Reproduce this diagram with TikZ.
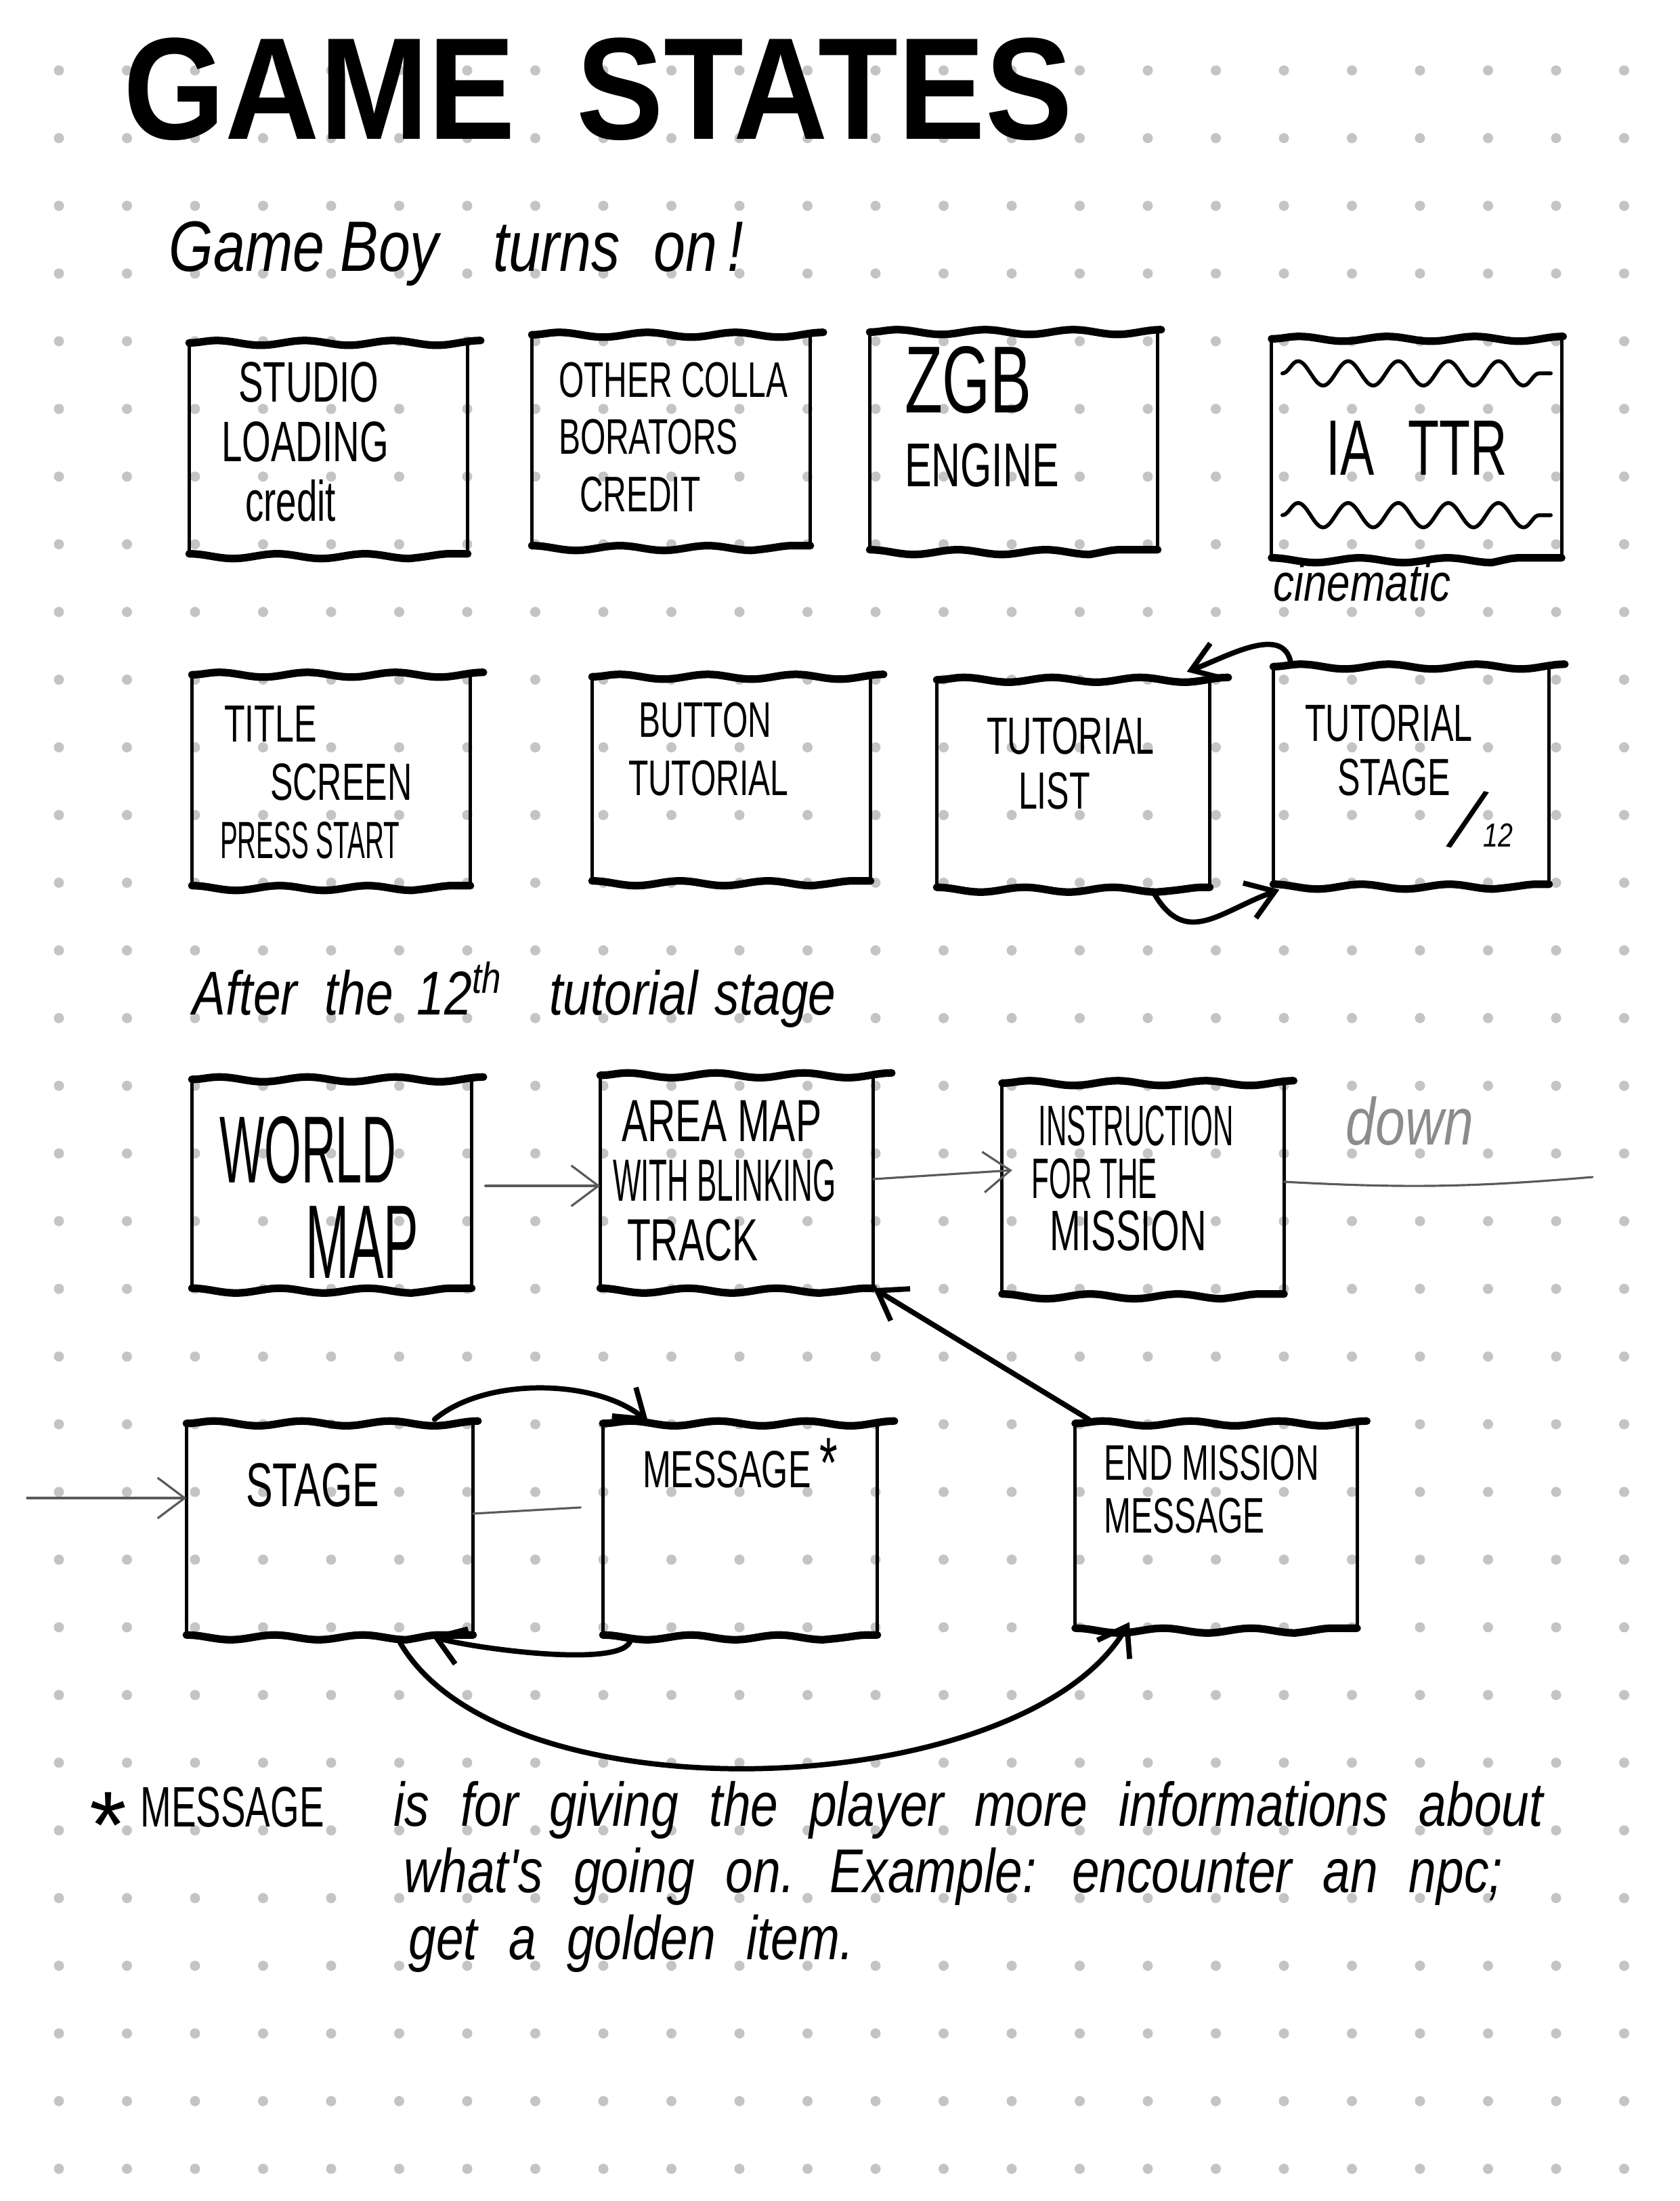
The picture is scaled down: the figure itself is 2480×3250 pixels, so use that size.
\documentclass[tikz,border=0pt]{standalone}
\usepackage{fontspec}
\setmainfont{Liberation Sans}
\newfontfamily\handfont[FakeStretch=0.65]{Liberation Sans}
\newfontfamily\handnarrow[FakeStretch=0.5]{Liberation Sans}
\newfontfamily\cursive[FakeStretch=0.8]{Liberation Sans}
\newfontfamily\titlefont[FakeStretch=0.9]{Liberation Sans}
\newcommand{\handsize}[2]{\fontsize{#1}{#2}\selectfont}
\newcommand{\widespace}{\spaceskip=0.5em\relax}
\usetikzlibrary{arrows.meta,decorations.pathmorphing,positioning}
\definecolor{dotgrey}{HTML}{C4C4C4}
\definecolor{pencilgrey}{HTML}{5A5A5A}

\begin{document}
\begin{tikzpicture}[x=0.1mm, y=-0.1mm,
screen/.style = {minimum width=41mm, minimum height=31mm, inner sep=0pt},
side/.style = {line width=1.4pt, line cap=round},
rim/.style = {line width=3.2pt, line cap=round, decorate, decoration={snake, amplitude=0.35mm, segment length=13mm}},
wave/.style = {line width=1.6pt, line cap=round, decorate, decoration={snake, amplitude=1.8mm, segment length=7.4mm}},
caps/.style = {font=\handfont\handsize{22}{24}, align=left, inner sep=0pt},
note/.style = {font=\cursive\itshape\handsize{26}{28}, inner sep=0pt},
link/.style = {line width=2.2pt, line cap=round, -{Straight Barb[length=4mm, width=5.5mm]}},
pencil/.style = {line width=0.9pt, pencilgrey, line cap=round}]
\useasboundingbox (0,0) rectangle (2480,3250);

% dotted paper
\foreach \i in {0,...,23}
  \foreach \j in {0,...,31}
    \fill[dotgrey] (87+100.5*\i, 104+99.95*\j) circle (0.75mm);

\node[font=\titlefont\bfseries\handsize{61}{61}, anchor=base west, inner sep=0pt] (heading) at (182,205) {GAME\hspace{9mm}STATES};
\node[note, font=\cursive\itshape\handsize{30}{30}, anchor=base west] (turnson) at (249,400) {Game Boy\hspace{8mm}turns\hspace{5mm}on\hspace{1.5mm}!};

% boot screens
\node[screen] (studio) at (485,662) {};
\node[screen] (collab) at (991,650) {};
\node[screen, minimum width=42.4mm, minimum height=32mm] (zgb) at (1497,651) {};
\node[screen, minimum width=42.7mm, minimum height=32.2mm, font=\handfont\handsize{33}{36}] (cine) at (2092,662) {IA\hspace{5mm}TTR};

\node[screen] (titlescreen) at (489,1152) {};
\node[screen, minimum height=30mm] (button) at (1080,1150) {};
\node[screen, minimum width=40.2mm, minimum height=30.5mm] (tlist) at (1585,1157) {};
\node[screen, minimum width=40.6mm, minimum height=32mm] (tstage) at (2084,1145) {};

\node[note, font=\cursive\itshape\handsize{26}{26}, anchor=base west, inner sep=0pt] (after) at (284,1498) {After\hspace{4mm}the\hspace{3.5mm}12\textsuperscript{th}\hspace{7mm}tutorial\hspace{2.5mm}stage};

% mission loop
\node[screen, minimum width=41.2mm, minimum height=30.7mm] (world) at (490,1748) {};
\node[screen, minimum width=40.2mm, minimum height=31.3mm] (area) at (1088,1745) {};
\node[screen, minimum width=41.5mm] (instr) at (1688,1755) {};

\node[screen, minimum width=42.2mm, minimum height=31.1mm] (stage) at (487,2258) {};
\node[screen, minimum width=40.4mm, minimum height=31.1mm] (message) at (1093,2258) {};
\node[screen, minimum width=41.5mm, minimum height=30.1mm] (endm) at (1796,2253) {};

\foreach \s in {studio,collab,zgb,cine,titlescreen,button,tlist,tstage,world,area,instr,stage,message,endm}{
  \draw[side] (\s.north west) -- (\s.south west) (\s.north east) -- (\s.south east);
  \draw[rim] (\s.north west) -- (\s.north east) (\s.south west) -- (\s.south east);
}
\draw[wave] ([xshift=1.6mm, yshift=-5.1mm]cine.north west) -- ([xshift=-1.6mm, yshift=-5.1mm]cine.north east);
\draw[wave] ([xshift=1.6mm, yshift=6.3mm]cine.south west) -- ([xshift=-1.6mm, yshift=6.3mm]cine.south east);

% box texts
\node[caps, font=\handfont\handsize{24}{25}, below right=2.8mm and 4.7mm of studio.north west] (studiotxt) {\hspace{2.5mm}STUDIO\\LOADING\\\hspace{3.5mm}credit};
\node[caps, font=\handfont\handsize{21}{24}, below right=4mm and 3.9mm of collab.north west] (collabtxt) {OTHER COLLA\\BORATORS\\\hspace{3.1mm}CREDIT};
\node[caps, font=\handfont\handsize{26}{31}, below right=2mm and 5.1mm of zgb.north west] (zgbtxt) {{\handsize{40}{31}ZGB}\\ENGINE};
\node[note, font=\cursive\itshape\handsize{22}{22}, anchor=base west] (cinelbl) at (1880,887) {cinematic};

\node[caps, font=\handfont\handsize{22}{24.5}, below right=4.5mm and 4.1mm of titlescreen.north west] (titletxt) {\hspace{0.6mm}TITLE\\\hspace{7.4mm}SCREEN\\{\handnarrow PRESS START}};
\node[caps, font=\handfont\handsize{21}{24.5}, below right=3.7mm and 5.3mm of button.north west] (buttontxt) {\hspace{1.5mm}BUTTON\\TUTORIAL};
\node[caps, font=\handfont\handsize{22}{23}, below right=5.5mm and 7.3mm of tlist.north west] (tlisttxt) {TUTORIAL\\\hspace{4.7mm}LIST};
\node[caps, font=\handfont\handsize{22}{23}, below right=5.5mm and 4.6mm of tstage.north west] (tstagetxt) {TUTORIAL\\\hspace{4.8mm}STAGE};
\node[note, font=\cursive\itshape\handsize{36}{36}, anchor=base west] (tcount) at (2140,1250) {\rotatebox{-14}{/}{\handsize{14}{14}12}};

\node[caps, font=\handnarrow\handsize{40}{40}, below right=5.4mm and 4mm of world.north west] (worldtxt) {WORLD\\\hspace{12.7mm}{\handsize{44}{40}MAP}};
\node[caps, font=\handfont\handsize{25}{25}, below right=3.7mm and 1.8mm of area.north west] (areatxt) {\hspace{1.3mm}AREA MAP\\{\handnarrow WITH BLINKING}\\\hspace{2.1mm}TRACK};
\node[caps, font=\handnarrow\handsize{24}{22}, below right=3.3mm and 4.3mm of instr.north west] (instrtxt) {\hspace{1mm}INSTRUCTION\\FOR THE\\\hspace{2.7mm}{\handfont MISSION}};
\node[note, font=\cursive\itshape\handsize{28}{28}, text=black!45, anchor=base west] (downlbl) at (1987,1690) {down};

\node[caps, font=\handfont\handsize{26}{26}, below right=5.8mm and 8.7mm of stage.north west] (stagetxt) {STAGE};
\node[caps, font=\handfont\handsize{22}{22}, below right=2.1mm and 5.8mm of message.north west] (messagetxt) {MESSAGE\,{\handsize{30}{30}*}};
\node[caps, font=\handfont\handsize{21}{22.4}, below right=3.1mm and 4.2mm of endm.north west] (endmtxt) {END MISSION\\MESSAGE};

% connectors
\draw[link] ([xshift=2.6mm, yshift=0.5mm]tstage.north west) to[out=100, in=20] ([xshift=-3.4mm, yshift=1.2mm]tlist.north east);
\draw[link] ([xshift=-8.3mm, yshift=-0.8mm]tlist.south east) to[out=-60, in=200, looseness=1.3] ([xshift=0.9mm, yshift=-0.8mm]tstage.south west);

\draw[pencil, shorten <=2mm, -{Straight Barb[length=4mm, width=6mm]}] ([yshift=-0.3mm]world.east) -- ([yshift=-0.6mm]area.west);
\draw[pencil, -{Straight Barb[length=4mm, width=6mm]}] ([yshift=0.4mm]area.east) -- ([xshift=1.5mm, yshift=2.7mm]instr.west);
\coordinate (downend) at (2352,1738);
\draw[pencil] ([yshift=1mm]instr.east) to[bend right=4] (downend);

\draw[link] ([xshift=2mm, yshift=0.6mm]endm.north west) -- (area.south east);

\coordinate (enter) at (40,2212);
\draw[pencil, -{Straight Barb[length=4mm, width=6mm]}] (enter) -- (enter -| stage.west);
\draw[pencil, shorten >=3.3mm] ([yshift=2.3mm]stage.east) -- ([yshift=3.4mm]message.west);
\draw[link] ([xshift=-5.7mm, yshift=0.6mm]stage.north east) to[out=40, in=140, looseness=0.8] ([xshift=6.7mm, yshift=0.2mm]message.north west);
\draw[link] ([xshift=4.1mm, yshift=-0.7mm]message.south west) to[out=-100, in=-20, looseness=0.4] ([xshift=-6.1mm, yshift=-0.1mm]stage.south east);
\draw[link] ([xshift=-10.8mm, yshift=-1.1mm]stage.south east) to[out=-60, in=-120, looseness=0.73] ([xshift=8mm, yshift=0.9mm]endm.south west);

% footnote
\node[caps, font=\handfont\handsize{24}{24}, anchor=base west] (notestar) at (132,2697) {\raisebox{-4.6mm}{\normalfont\handsize{40}{40}*}\hspace{2mm}MESSAGE};
\node[note, font=\cursive\itshape\handsize{26}{27.9}\widespace, align=left, anchor=base west] (notetext) at (581,2893) {is for giving the player more informations about\\\hspace{1.5mm}what's going on. Example: encounter an npc;\\\hspace{2.2mm}get a golden item.};
\end{tikzpicture}
\end{document}
